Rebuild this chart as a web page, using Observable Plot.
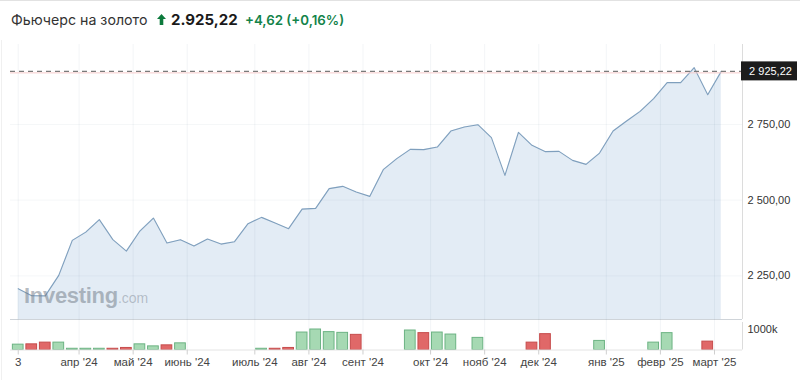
<!DOCTYPE html>
<html><head><meta charset="utf-8">
<script src="https://cdn.jsdelivr.net/npm/d3@7"></script>
<script src="https://cdn.jsdelivr.net/npm/@observablehq/plot@0.6"></script>
<style>
html,body{margin:0;padding:0;background:#fff;}
#wrap{position:relative;width:800px;height:380px;overflow:hidden;font-family:"Liberation Sans",Arial,sans-serif;}
.t{position:absolute;white-space:nowrap;line-height:20px;top:10px;font-family:Inter,"Noto Sans",sans-serif;}
#name{left:11px;font-size:14.2px;color:#333;}
#arrow{position:absolute;left:157px;top:14px;}
#price{left:171px;font-size:15px;font-weight:700;color:#1a1a1a;}
#chg{left:245px;font-size:13.3px;font-weight:600;color:#13834a;}
#topline{position:absolute;left:0;top:0;width:800px;height:1px;background:#e2e2e2;}
#leftline{position:absolute;left:1px;top:40px;width:1px;height:340px;background:#f0f0f0;}
#main{position:absolute;left:0;top:40px;}
#vol{position:absolute;left:0;top:318px;}
#wm{position:absolute;left:24px;top:285px;line-height:22px;white-space:nowrap;font-family:"Liberation Sans",Arial,sans-serif;pointer-events:none;}
#wm .a{font-size:22px;font-weight:700;color:rgba(110,120,132,0.5);letter-spacing:-0.3px;}
#wm .b{font-size:14px;color:rgba(110,120,132,0.42);}
</style>
</head><body>
<div id="wrap">
  <div id="topline"></div>
  <span class="t" id="name">Фьючерс на золото</span>
  <svg id="arrow" width="9" height="11" viewBox="0 0 9 11"><path d="M4.5 0 L9 5 L6.3 5 L6.3 11 L2.7 11 L2.7 5 L0 5 Z" fill="#0c7a3c"/></svg>
  <span class="t" id="price">2.925,22</span>
  <span class="t" id="chg">+4,62 (+0,16%)</span>
  <div id="main"></div>
  <div id="vol"></div>
  <div id="wm"><span class="a">Investing</span><span class="b">.com</span></div>
  <div id="leftline"></div>
</div>
<script>
// ---- data ----
const startDate = "2024-03-03"; // first weekly bar
const closes = [
  2207.7, 2184.6, 2184.0, 2251.7, 2367.2, 2394.6, 2435.6, 2369.6, 2331.9, 2398.0,
  2440.9, 2358.3, 2369.6, 2348.4, 2371.5, 2355.0, 2362.9, 2422.4, 2443.2, 2424.4,
  2405.9, 2470.6, 2472.9, 2538.0, 2545.6, 2526.8, 2512.5, 2600.7, 2637.1, 2667.8,
  2667.0, 2675.4, 2728.2, 2741.4, 2749.3, 2706.4, 2581.9, 2723.9, 2681.0, 2660.2,
  2661.2, 2631.4, 2618.2, 2655.5, 2728.2, 2761.2, 2793.3, 2835.2, 2888.0, 2888.0,
  2937.6, 2848.4, 2925.22
];
const volumesK = [
  261, 276, 360, 360, 60, 60, 60, 60, 100, 276,
  177, 227, 325, 0, 0, 0, 0, 0, 60, 60,
  100, 852, 1000, 872, 837, 739, 0, 0, 0, 951,
  823, 852, 754, 0, 591, 0, 0, 0, 360, 773,
  0, 0, 0, 443, 0, 0, 0, 360, 823, 0,
  0, 409, 0
];
const tickDates = [
  "2024-03-03T00:00Z", "2024-04-03T12:00Z", "2024-05-01T12:00Z", "2024-05-29T12:00Z",
  "2024-07-03T12:00Z", "2024-07-31T12:00Z", "2024-08-28T12:00Z", "2024-10-02T12:00Z",
  "2024-10-30T12:00Z", "2024-11-27T12:00Z", "2025-01-01T12:00Z", "2025-01-29T12:00Z",
  "2025-02-26T12:00Z"
];
const tickLabels = ["3", "апр '24", "май '24", "июнь '24", "июль '24", "авг '24", "сент '24",
  "окт '24", "нояб '24", "дек '24", "янв '25", "февр '25", "март '25"];
const priceTicks = [2250, 2500, 2750];
const volumeTicks = [1000000];
const lastPrice = 2925.22;
const xDomain = [new Date("2024-02-28T00:00Z"), new Date("2025-03-13T00:00Z")];
const yDomain = [2106, 3014];
const volDomain = [0, 1488000];

// ---- build ----
const start = new Date(startDate + "T00:00:00Z");
const data = closes.map((c, i) => ({
  date: d3.utcDay.offset(start, 7 * i),
  close: c,
  volume: volumesK[i] * 1000,
  up: i === 0 || c > closes[i - 1]
}));
const ticks = tickDates.map(d => new Date(d));
const labelMap = new Map(ticks.map((d, i) => [+d, tickLabels[i]]));
const fmt = d3.formatLocale({decimal: ",", thousands: " ", grouping: [3], currency: ["", ""]}).format(",.2f");
const xEnd = xDomain[1];
const style = {fontFamily: "'Liberation Sans', Arial, sans-serif", fontSize: "11px", color: "#333", background: "transparent", overflow: "visible"};

const main = Plot.plot({
  width: 800, height: 279, marginTop: 4, marginBottom: 0, marginLeft: 10, marginRight: 58,
  style,
  x: {type: "utc", domain: xDomain, axis: null},
  y: {domain: yDomain, axis: null},
  marks: [
    Plot.areaY(data, {x: "date", y: "close", fill: "#e3ecf5", clip: true}),
    Plot.gridX(ticks, {stroke: "#5a7590", strokeOpacity: 0.07}),
    Plot.gridY(priceTicks, {stroke: "#5a7590", strokeOpacity: 0.06}),
    Plot.lineY(data, {x: "date", y: "close", stroke: "#7f9fbd", strokeWidth: 1.1}),
    Plot.ruleY([lastPrice], {stroke: "#f7cccc", dy: 1.5}),
    Plot.ruleY([lastPrice], {stroke: "#7a7a7a", strokeWidth: 1.4, strokeDasharray: "5,4"}),
    Plot.ruleY([yDomain[0]], {stroke: "#cfd4d9"}),
    Plot.ruleX([xEnd], {stroke: "#dcdcdc"}),
    Plot.axisY({anchor: "right", ticks: priceTicks, tickSize: 0, tickPadding: 5, tickFormat: fmt, fontSize: 11, label: null}),
    Plot.rect([lastPrice], {x1: () => xEnd, x2: () => xEnd, y1: d => d, y2: d => d,
      insetLeft: -1, insetRight: -55, insetTop: -9.5, insetBottom: -9.5, fill: "#1c1c1c"}),
    Plot.text([lastPrice], {x: () => xEnd, y: d => d, text: d => fmt(d), dx: 28, fill: "#fff", fontSize: 11})
  ]
});
document.getElementById("main").appendChild(main);

const vol = Plot.plot({
  width: 800, height: 62, marginTop: 1, marginBottom: 30.5, marginLeft: 10, marginRight: 58,
  style,
  x: {type: "utc", domain: xDomain},
  y: {domain: volDomain, axis: null},
  marks: [
    Plot.gridX(ticks, {stroke: "#5a7590", strokeOpacity: 0.07}),
    Plot.rectY(data.filter(d => d.volume > 0), {
      x1: d => d3.utcHour.offset(d.date, -84), x2: d => d3.utcHour.offset(d.date, 84),
      y: "volume", insetLeft: 1.4, insetRight: 1.4,
      fill: d => d.up ? "#a6d9b3" : "#e06868",
      stroke: d => d.up ? "#6cb383" : "#c64c4c", strokeWidth: 1
    }),
    Plot.ruleY([0], {stroke: "#e4e4e4"}),
    Plot.ruleX([xEnd], {stroke: "#dcdcdc", y1: volDomain[0], y2: volDomain[1], insetBottom: -3}),
    Plot.axisY({anchor: "right", ticks: volumeTicks, tickSize: 0, tickPadding: 5, tickFormat: v => (v / 1000) + "k", fontSize: 11, label: null}),
    Plot.axisX({anchor: "bottom", ticks, tickFormat: d => labelMap.get(+d), tickSize: 5, tickPadding: 3, fontSize: 11.5, stroke: "#cfcfcf", fill: "#444", label: null})
  ]
});
document.getElementById("vol").appendChild(vol);
</script>
</body></html>
